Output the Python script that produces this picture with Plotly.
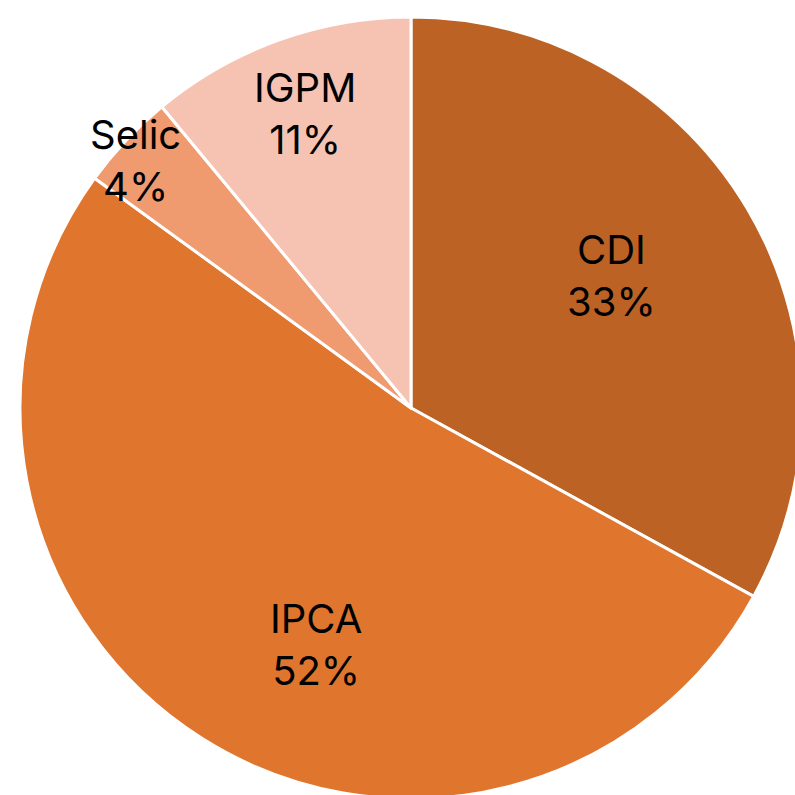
import plotly.graph_objects as go

labels = ["CDI", "IPCA", "Selic", "IGPM"]
values = [33, 52, 4, 11]
colors = ["#BC6224", "#E0752E", "#F09A70", "#F6C3B3"]

# label placement (paper coords of plot area), chosen to match the reference layout
label_xy = {"CDI": (0.757, 0.669), "IPCA": (0.3785, 0.198),
            "Selic": (0.1483, 0.816), "IGPM": (0.3645, 0.876)}

total = sum(values)

fig = go.Figure(go.Pie(
    labels=labels,
    values=values,
    sort=False,
    direction="clockwise",
    rotation=0,
    marker=dict(colors=colors, line=dict(color="white", width=3)),
    textinfo="none",
    showlegend=False,
    hoverinfo="label+percent",
))

for lab, val in zip(labels, values):
    x, y = label_xy[lab]
    fig.add_annotation(
        x=x, y=y, xref="paper", yref="paper",
        xanchor="center", yanchor="middle",
        text=f"{lab}<br>{val / total:.0%}",
        showarrow=False,
        font=dict(family="Inter", size=40, color="black"),
    )

fig.update_layout(
    width=802, height=799,
    margin=dict(l=20, r=0, t=17, b=0),
    paper_bgcolor="white",
    plot_bgcolor="white",
)

fig.write_html(
    "out.html",
    config={"displayModeBar": False},
    post_script="document.body.style.margin='0';document.body.style.overflow='hidden';document.documentElement.style.overflow='hidden';",
)
